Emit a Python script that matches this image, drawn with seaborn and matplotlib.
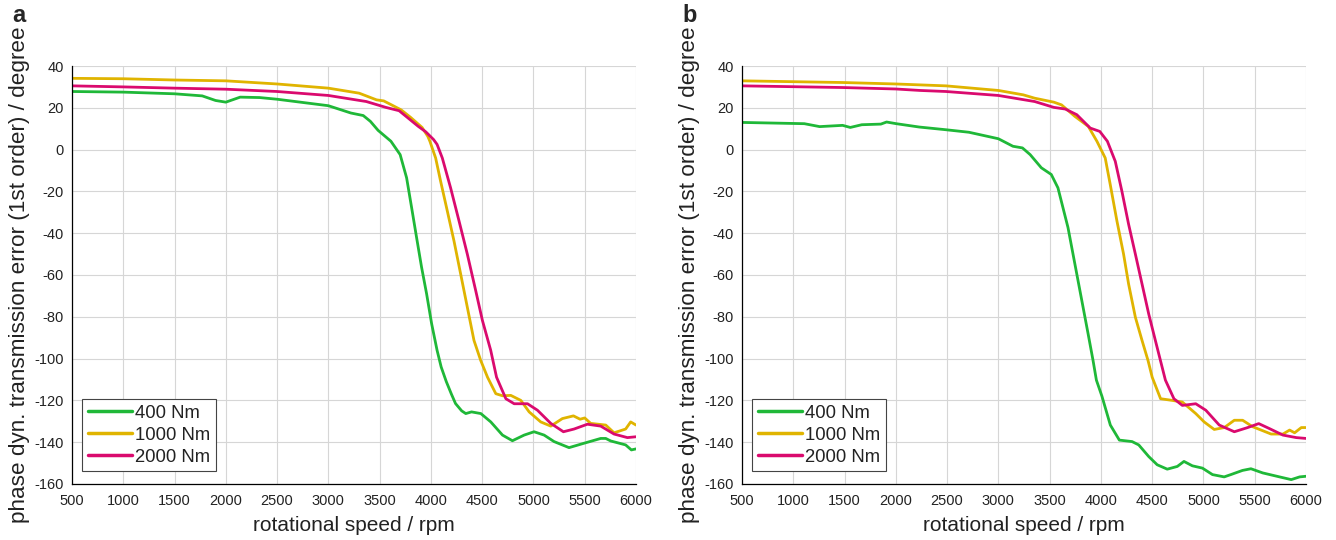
import numpy as np
import pandas as pd
import matplotlib
matplotlib.use("Agg")
import matplotlib.pyplot as plt
import seaborn as sns

# ---------------- data ----------------
loads = ["400 Nm", "1000 Nm", "2000 Nm"]
colors = ["#1fb838", "#e0b400", "#da0a6e"]

# panel a
a400_rpm = [500, 1000, 1500, 1770, 1900, 2000, 2140, 2330, 2500, 3000, 3220, 3340, 3410, 3485,
            3610, 3700, 3763, 3812, 3860, 3909, 3958, 4007, 4060, 4100, 4150, 4200, 4240, 4300,
            4340, 4396, 4487, 4584, 4698, 4795, 4909, 5006, 5104, 5201, 5347, 5493, 5656, 5705,
            5753, 5899, 5955, 6000]
a400_val = [27.8, 27.5, 26.7, 25.7, 23.5, 22.7, 25.1, 24.9, 24.1, 21.0, 17.5, 16.3, 13.5, 9.2,
            4.0, -2.4, -13.5, -27.8, -42.0, -56.3, -69.0, -83.3, -96.0, -104.0, -111.0, -117.0,
            -121.5, -125.0, -126.3, -125.5, -126.3, -130.3, -136.6, -139.3, -136.6, -135.0, -136.6,
            -139.7, -142.6, -140.5, -138.2, -138.2, -139.4, -141.3, -143.7, -143.2]

a1000_rpm = [500, 1000, 1500, 2000, 2500, 3000, 3300, 3470, 3540, 3600, 3710, 3800, 3914, 3970,
             3990, 4046, 4094, 4160, 4225, 4290, 4355, 4420, 4485, 4552, 4633, 4700, 4779, 4877,
             4958, 5071, 5169, 5282, 5390, 5455, 5500, 5558, 5705, 5786, 5899, 5948, 6000]
a1000_val = [34.1, 33.9, 33.3, 32.9, 31.4, 29.4, 27.0, 23.8, 23.3, 21.8, 19.0, 15.5, 10.6, 6.3,
             4.0, -4.0, -15.0, -29.4, -43.7, -59.5, -75.4, -91.3, -100.8, -108.9, -116.8, -117.8,
             -117.6, -120.0, -125.5, -130.3, -132.3, -128.7, -127.4, -129.0, -128.4, -131.0,
             -131.8, -135.5, -133.7, -130.3, -131.8]

a2000_rpm = [500, 1000, 1500, 2000, 2500, 3000, 3370, 3560, 3690, 3780, 3877, 3950, 4026, 4060,
             4111, 4192, 4274, 4355, 4437, 4502, 4583, 4640, 4731, 4812, 4942, 5039, 5169, 5292,
             5396, 5526, 5656, 5786, 5916, 6000]
a2000_val = [30.5, 30.0, 29.4, 28.9, 27.8, 25.9, 23.0, 20.2, 18.6, 15.0, 11.1, 8.5, 4.8, 2.5,
             -4.0, -18.3, -34.1, -50.0, -67.5, -81.7, -96.0, -108.9, -119.2, -121.6, -121.6,
             -124.7, -131.0, -135.0, -133.7, -131.4, -132.3, -136.1, -137.8, -137.4]

# panel b
b400_rpm = [500, 1108, 1257, 1481, 1556, 1668, 1854, 1910, 2004, 2228, 2489, 2713, 3000, 3142,
            3235, 3310, 3419, 3516, 3581, 3630, 3679, 3728, 3777, 3826, 3875, 3923, 3956, 4010,
            4092, 4180, 4304, 4369, 4467, 4549, 4647, 4745, 4810, 4892, 4990, 5088, 5202, 5267,
            5381, 5463, 5578, 5742, 5856, 5938, 6000]
b400_val = [13.0, 12.4, 11.0, 11.6, 10.6, 11.9, 12.2, 13.2, 12.4, 10.8, 9.5, 8.3, 5.2, 1.6,
            0.8, -2.4, -8.7, -11.9, -18.3, -27.8, -37.3, -50.0, -62.7, -75.4, -88.1, -100.8,
            -110.3, -118.0, -131.8, -139.0, -139.7, -141.3, -146.9, -150.8, -152.9, -151.6,
            -149.2, -151.3, -152.4, -155.5, -156.6, -155.5, -153.5, -152.7, -154.7, -156.6,
            -157.9, -156.6, -156.3]

b1000_rpm = [500, 1481, 2000, 2489, 3000, 3243, 3354, 3541, 3616, 3746, 3877, 3961, 4042, 4091,
             4156, 4221, 4270, 4336, 4401, 4460, 4500, 4582, 4696, 4794, 4925, 5007, 5105, 5203,
             5301, 5382, 5480, 5578, 5660, 5775, 5840, 5889, 5954, 6000]
b1000_val = [32.9, 32.1, 31.4, 30.5, 28.3, 26.2, 24.6, 22.7, 21.4, 15.9, 11.1, 4.0, -4.0, -16.7,
             -34.1, -50.0, -64.3, -80.2, -91.3, -101.0, -108.9, -119.2, -120.0, -120.8, -126.3,
             -130.3, -133.9, -133.0, -129.5, -129.5, -132.6, -134.5, -136.1, -136.1, -134.2,
             -135.5, -133.0, -133.0]

b2000_rpm = [500, 1481, 2000, 2235, 2489, 3000, 3354, 3541, 3653, 3765, 3896, 3989, 4063, 4140,
             4205, 4270, 4336, 4401, 4466, 4531, 4629, 4712, 4794, 4925, 5023, 5154, 5301, 5431,
             5539, 5644, 5775, 5905, 6000]
b2000_val = [30.5, 29.7, 29.0, 28.3, 27.8, 25.9, 23.0, 20.2, 19.4, 16.7, 10.3, 8.7, 4.0, -5.6,
             -20.0, -35.7, -50.0, -64.3, -78.6, -91.3, -110.3, -119.2, -122.4, -121.6, -124.7,
             -131.8, -135.0, -133.0, -131.1, -133.5, -136.6, -137.8, -138.2]

x_ticks = list(range(500, 6001, 500))
y_ticks = list(range(-160, 41, 20))
x_label = "rotational speed / rpm"
y_label = "phase dyn. transmission error (1st order) / degree"
panel_labels = ["a", "b"]


def make_df(series):
    frames = []
    for load, (r, v) in zip(loads, series):
        frames.append(pd.DataFrame({"rpm": r, "phase": v, "load": load}))
    return pd.concat(frames, ignore_index=True)


df_a = make_df([(a400_rpm, a400_val), (a1000_rpm, a1000_val), (a2000_rpm, a2000_val)])
df_b = make_df([(b400_rpm, b400_val), (b1000_rpm, b1000_val), (b2000_rpm, b2000_val)])

# ---------------- style ----------------
sns.set_theme(style="white")
plt.rcParams["font.family"] = ["Liberation Sans", "DejaVu Sans"]
plt.rcParams["axes.unicode_minus"] = False

fig = plt.figure(figsize=(13.36, 5.40), dpi=100)
W, H = 1336, 540
axes_boxes = [(72, 66, 636, 484), (742, 66, 1306, 484)]
label_pos = [(12, 16), (682, 16)]

for (x0, y0, x1, y1), df, plab, (lx, ly) in zip(axes_boxes, [df_a, df_b], panel_labels, label_pos):
    ax = fig.add_axes([x0 / W, 1 - y1 / H, (x1 - x0) / W, (y1 - y0) / H])
    sns.lineplot(data=df, x="rpm", y="phase", hue="load", hue_order=loads,
                 palette=colors, linewidth=2.0, estimator=None, sort=False, ax=ax)
    ax.set_xlim(500, 6000)
    ax.set_ylim(-160, 40)
    ax.set_xticks(x_ticks)
    ax.set_yticks(y_ticks)
    ax.grid(True, color="#d6d6d6", linewidth=0.8)
    ax.set_axisbelow(True)
    for s in ["top", "right"]:
        ax.spines[s].set_visible(False)
    for s in ["left", "bottom"]:
        ax.spines[s].set_color("black")
        ax.spines[s].set_linewidth(0.9)
    ax.tick_params(axis="both", direction="in", length=5, width=0.8, color="black",
                   labelsize=10.5, labelcolor="#222222", pad=6)
    ax.tick_params(axis="x", pad=7)
    ax.set_xlabel(x_label, fontsize=15, labelpad=6, color="#222222")
    ax.set_ylabel(y_label, fontsize=16.2, labelpad=3, color="#222222")
    handles, labels = ax.get_legend_handles_labels()
    leg = ax.legend(handles, labels, loc="lower left", bbox_to_anchor=(0.018, 0.03),
                    fontsize=13.3, frameon=True, fancybox=False, framealpha=1,
                    edgecolor="#444444", handlelength=2.4, handletextpad=0.15,
                    labelspacing=0.28, borderpad=0.3, borderaxespad=0)
    leg.get_frame().set_linewidth(0.8)
    for line in leg.get_lines():
        line.set_linewidth(2.5)
    for t in leg.get_texts():
        t.set_color("#222222")
    fig.text(lx / W, 1 - ly / H, plab, fontsize=17, fontweight="bold", va="center", ha="left")

fig.savefig("out.png", dpi=100)
